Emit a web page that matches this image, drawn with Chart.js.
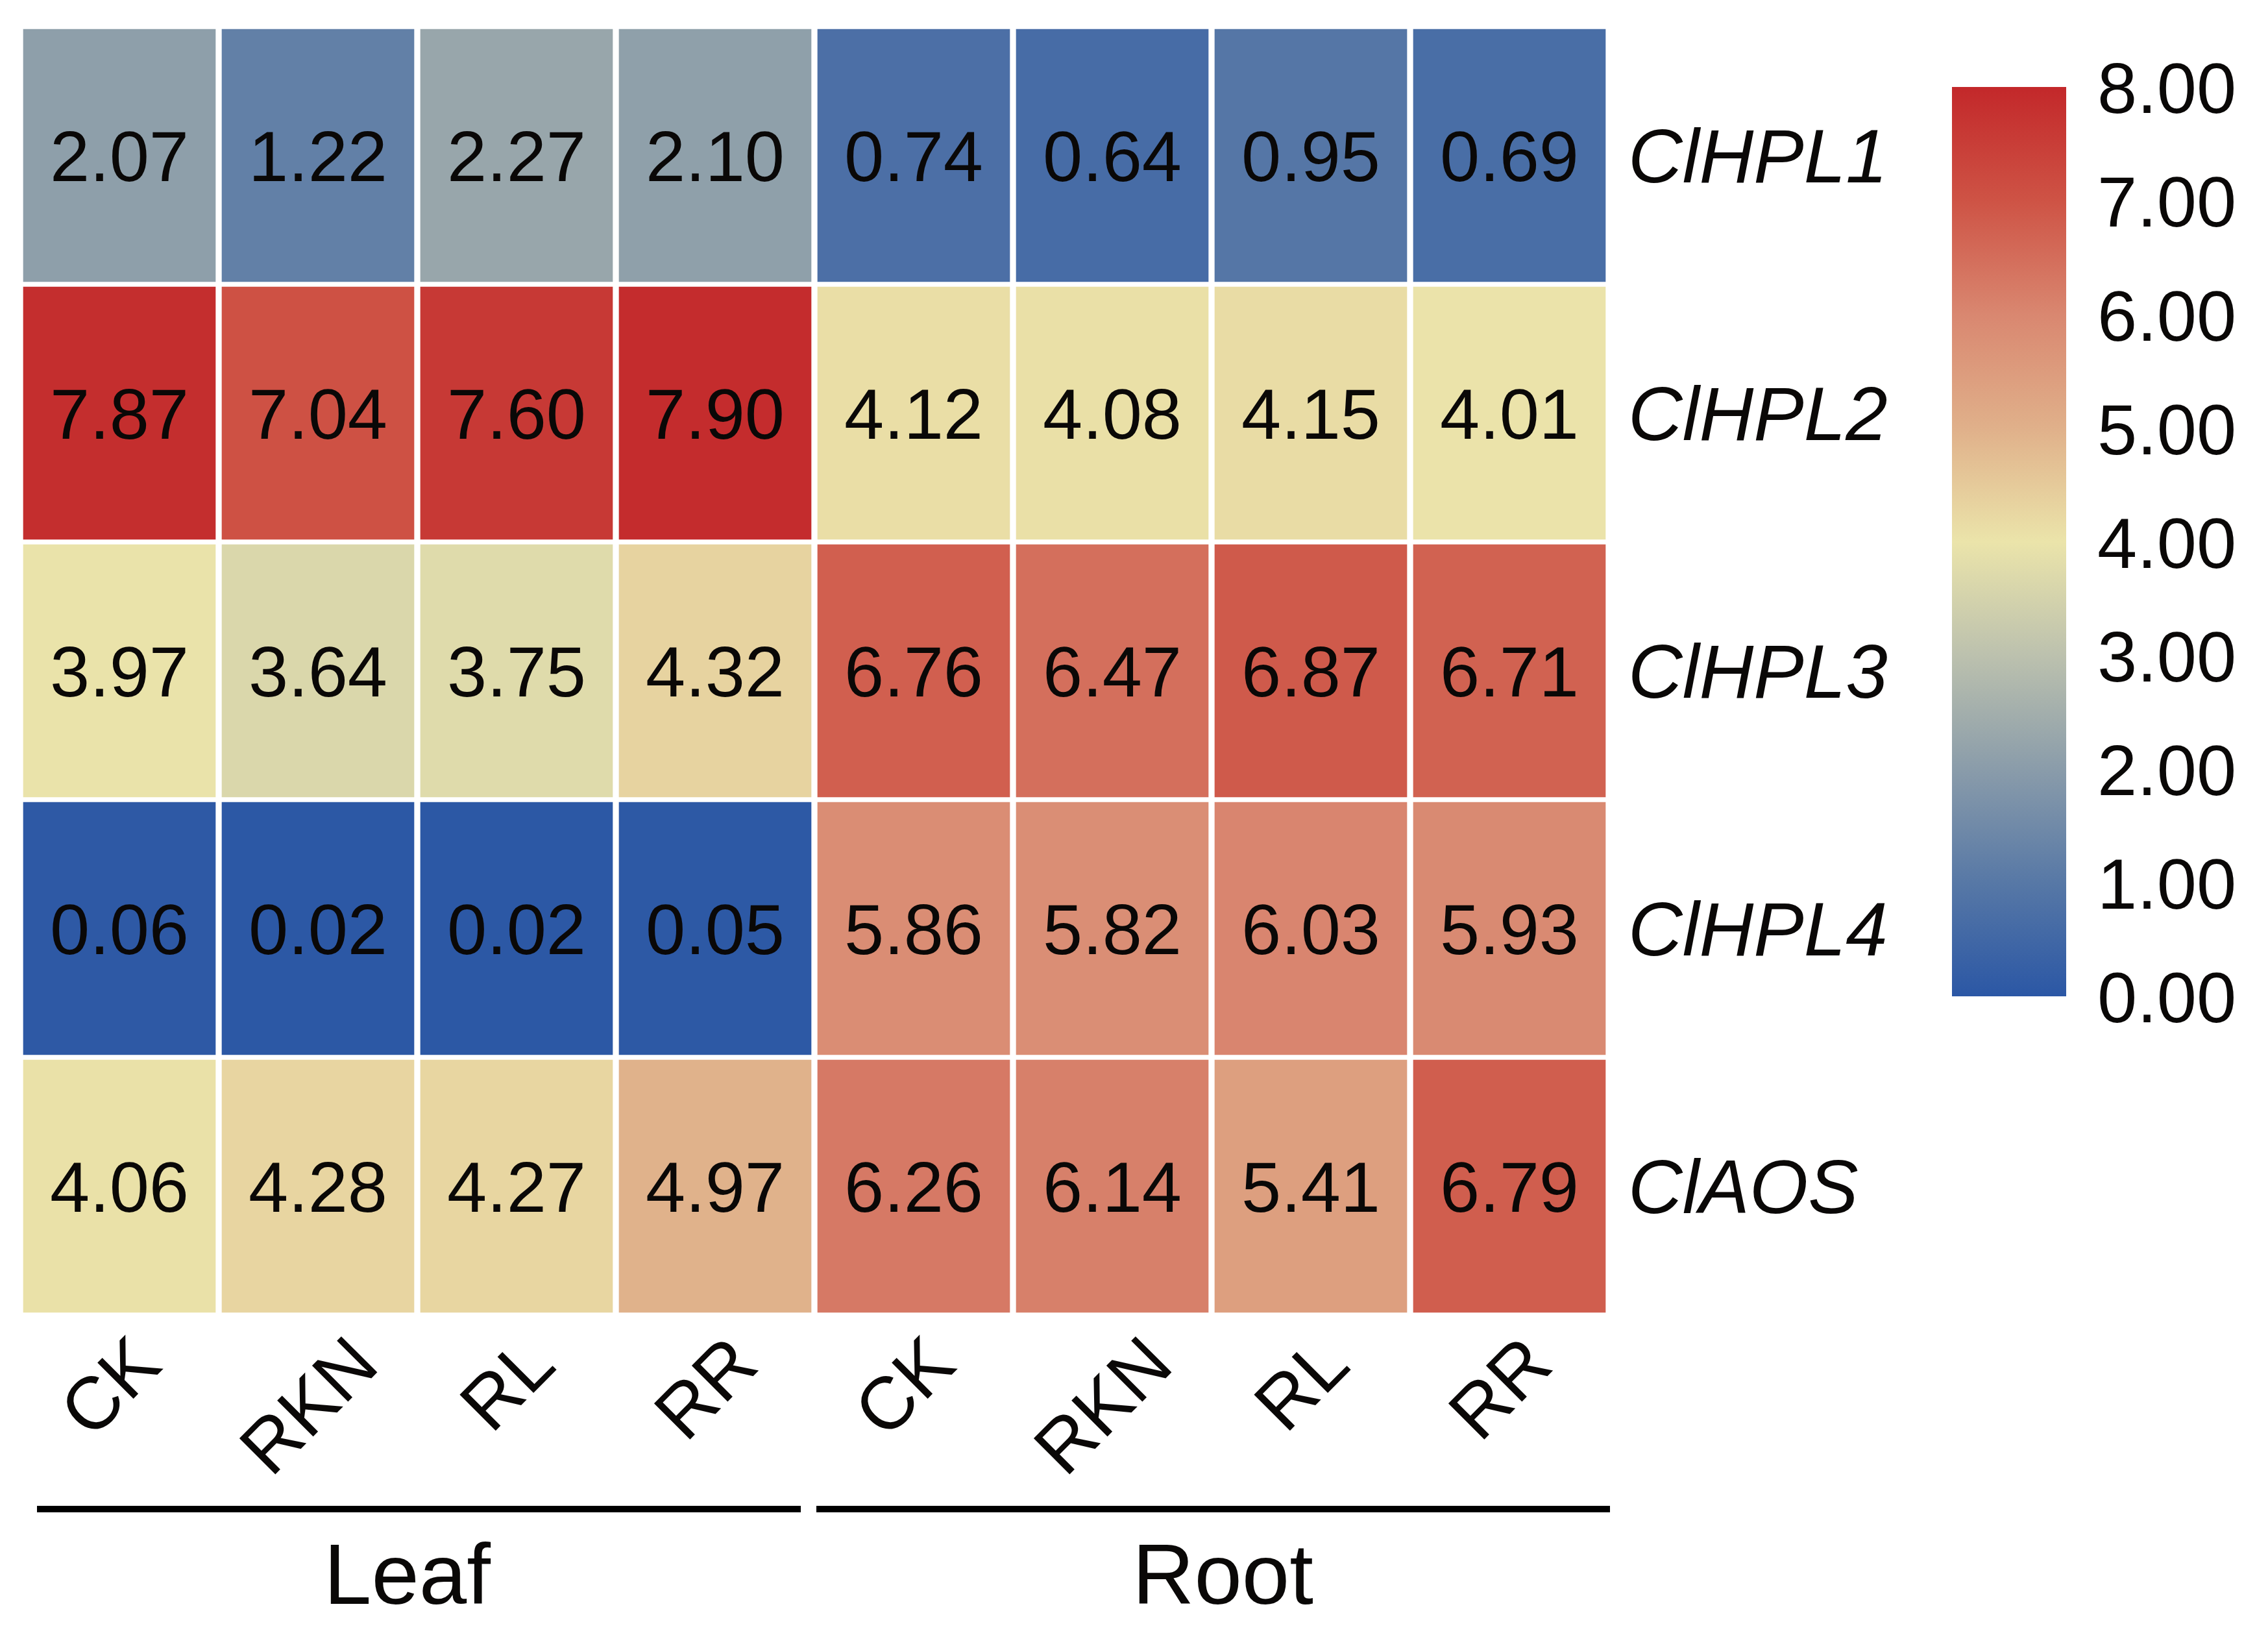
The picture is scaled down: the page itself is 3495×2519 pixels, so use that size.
<!DOCTYPE html>
<html><head><meta charset="utf-8">
<script src="https://cdn.jsdelivr.net/npm/chart.js@4.4.1/dist/chart.umd.min.js"></script>
<style>
html,body{margin:0;padding:0;background:#fff;overflow:hidden;width:3495px;height:2519px}
#main{position:absolute;left:0;top:0}
#bar{position:absolute;left:2990px;top:60px}
</style></head><body>
<canvas id="main" width="3495" height="2519"></canvas>
<canvas id="bar" width="505" height="1560"></canvas>
<script>
// ---- data ----
const genes = ['ClHPL1', 'ClHPL2', 'ClHPL3', 'ClHPL4', 'ClAOS'];
const samples = ['CK', 'RKN', 'RL', 'RR', 'CK', 'RKN', 'RL', 'RR'];
const groups = ['Leaf', 'Root'];
const groupSpans = [[0, 3], [4, 7]];
const clHPL1 = [2.07, 1.22, 2.27, 2.10, 0.74, 0.64, 0.95, 0.69];
const clHPL2 = [7.87, 7.04, 7.60, 7.90, 4.12, 4.08, 4.15, 4.01];
const clHPL3 = [3.97, 3.64, 3.75, 4.32, 6.76, 6.47, 6.87, 6.71];
const clHPL4 = [0.06, 0.02, 0.02, 0.05, 5.86, 5.82, 6.03, 5.93];
const clAOS  = [4.06, 4.28, 4.27, 4.97, 6.26, 6.14, 5.41, 6.79];
const matrix = [clHPL1, clHPL2, clHPL3, clHPL4, clAOS];
const colorbarMin = 0, colorbarMax = 8;
const colorStops = [
  [0, '#2B57A5'], [1, '#5778A6'], [2, '#8A9CAA'], [3, '#BCC1AE'], [4, '#EBE4AA'],
  [5, '#E0B08A'], [6, '#D98770'], [7, '#CE5345'], [8, '#C3282A']
];

// ---- colour map ----
function hex2rgb(h){return [parseInt(h.substr(1,2),16),parseInt(h.substr(3,2),16),parseInt(h.substr(5,2),16)];}
function colorFor(v){
  for(let i=0;i<colorStops.length-1;i++){
    const [v0,c0]=colorStops[i],[v1,c1]=colorStops[i+1];
    if(v<=v1||i===colorStops.length-2){
      const t=Math.max(0,Math.min(1,(v-v0)/(v1-v0)));
      const a=hex2rgb(c0),b=hex2rgb(c1);
      return 'rgb('+a.map((x,k)=>Math.round(x+(b[k]-x)*t)).join(',')+')';
    }
  }
}

const FONT = '"Liberation Sans", Arial, Helvetica, sans-serif';
const TEXT = '#0a0807';

const labelPlugin = {
  id:'heatLabels',
  afterDatasetsDraw(chart){
    const ctx=chart.ctx, xs=chart.scales.x, ca=chart.chartArea;
    ctx.save();
    ctx.fillStyle=TEXT;
    // values + row labels
    chart.data.datasets.forEach((ds,di)=>{
      const meta=chart.getDatasetMeta(di);
      let cy=0;
      meta.data.forEach((el,j)=>{
        cy=(el.y+el.base)/2;
        ctx.font='110px '+FONT;
        ctx.textAlign='center'; ctx.textBaseline='alphabetic';
        ctx.fillText(ds.values[j].toFixed(2), el.x, cy+0.358*110);
      });
      ctx.font='italic 116px '+FONT;
      ctx.textAlign='left';
      ctx.fillText(genes[di], ca.right+30, cy+0.358*116);
    });
    // rotated sample labels
    const fs=114, capH=0.716*fs;
    ctx.font=fs+'px '+FONT;
    samples.forEach((s,i)=>{
      const w=ctx.measureText(s).width;
      const bh=(w+capH)*Math.SQRT1_2;
      const cx=xs.getPixelForValue(i)-16;
      const cy=ca.bottom+24+bh/2;
      ctx.save();
      ctx.translate(cx,cy); ctx.rotate(-Math.PI/4);
      ctx.textAlign='center'; ctx.textBaseline='alphabetic';
      ctx.fillText(s,0,capH/2);
      ctx.restore();
    });
    // group brackets
    const band=xs.getPixelForValue(1)-xs.getPixelForValue(0);
    const insets=[[26,-21],[3,2]];
    const textShift=[-18,15];
    ctx.strokeStyle='#000'; ctx.lineWidth=10; ctx.lineCap='butt';
    groupSpans.forEach(([a,b],gi)=>{
      const x1=xs.getPixelForValue(a)-band/2+insets[gi][0];
      const x2=xs.getPixelForValue(b)+band/2+insets[gi][1];
      const y=ca.bottom+299;
      ctx.beginPath(); ctx.moveTo(x1,y); ctx.lineTo(x2,y); ctx.stroke();
      ctx.font='132px '+FONT; ctx.textAlign='center';
      ctx.fillText(groups[gi],(x1+x2)/2+textShift[gi],ca.bottom+445);
    });
    ctx.restore();
  }
};

new Chart(document.getElementById('main'),{
  type:'bar',
  data:{
    labels:samples,
    datasets:genes.map((g,i)=>({
      label:g,
      data:samples.map(()=>1),
      values:matrix[i],
      backgroundColor:matrix[i].map(colorFor),
      borderColor:'#ffffff',
      borderWidth:{left:5,right:5,top:4,bottom:4},
      borderSkipped:false,
      barPercentage:1,
      categoryPercentage:1
    }))
  },
  options:{
    responsive:false, devicePixelRatio:1, animation:false,
    layout:{padding:{left:31,top:41,right:1016,bottom:493}},
    scales:{
      x:{display:false,stacked:true},
      y:{display:false,stacked:true,min:0,max:genes.length,reverse:true}
    },
    plugins:{legend:{display:false},tooltip:{enabled:false}}
  },
  plugins:[labelPlugin]
});

new Chart(document.getElementById('bar'),{
  type:'bar',
  data:{
    labels:['scale'],
    datasets:[{
      data:[[colorbarMin,colorbarMax]],
      backgroundColor:(c)=>{
        const ch=c.chart, ca=ch.chartArea;
        if(!ca) return colorStops[0][1];
        const g=ch.ctx.createLinearGradient(0,ca.bottom,0,ca.top);
        colorStops.forEach(([v,col])=>g.addColorStop((v-colorbarMin)/(colorbarMax-colorbarMin),col));
        return g;
      },
      borderWidth:0, barPercentage:1, categoryPercentage:1
    }]
  },
  options:{
    responsive:false, devicePixelRatio:1, animation:false,
    layout:{padding:{left:18,top:74,bottom:85,right:0}},
    scales:{
      x:{display:false},
      y:{
        position:'right', min:colorbarMin, max:colorbarMax,
        grid:{display:false,drawTicks:false}, border:{display:false},
        ticks:{stepSize:1,padding:48,labelOffset:10,color:TEXT,font:{family:FONT,size:110},callback:v=>Number(v).toFixed(2)},
        afterFit:(s)=>{s.width=311; s.paddingTop=0; s.paddingBottom=0;}
      }
    },
    plugins:{legend:{display:false},tooltip:{enabled:false}}
  }
});
</script>
</body></html>
